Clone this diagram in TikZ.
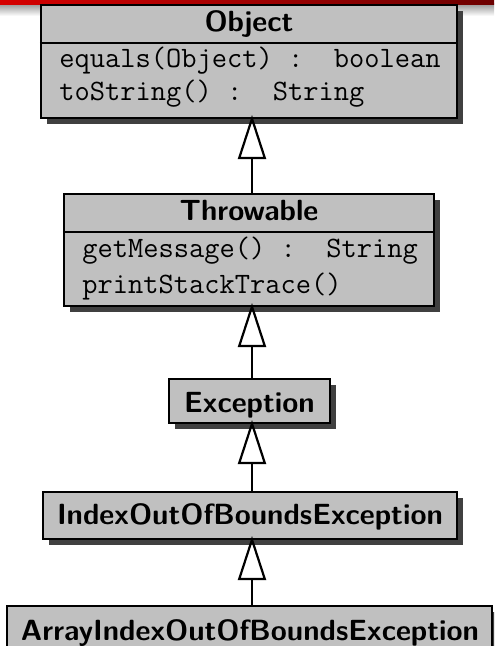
\documentclass[tikz,border=0pt]{standalone}
\usetikzlibrary{arrows.meta,shadows}

\definecolor{boxfill}{RGB}{192,192,192}
\definecolor{shadowgray}{RGB}{64,64,64}
\definecolor{barleft}{RGB}{214,0,0}
\definecolor{barright}{RGB}{108,0,0}

\begin{document}
\begin{tikzpicture}[x=0.5pt,y=-0.5pt,
  classbox/.style={draw=black, line width=1.1pt, fill=boxfill, inner sep=0pt,
    drop shadow={shadow xshift=3pt, shadow yshift=-3pt, fill=shadowgray, opacity=1}},
  titletext/.style={inner sep=0pt, anchor=base,
    font=\fontsize{14.6}{17}\selectfont\sffamily\bfseries},
  methodtext/.style={inner sep=0pt, anchor=base west,
    font=\fontsize{14.8}{17}\selectfont\ttfamily},
  seprule/.style={draw=black, line width=1.1pt},
  inherit/.style={draw=black, line width=1.1pt, shorten >=-2pt,
    -{Triangle[open, length=22pt, width=14pt, line width=1.1pt]}}
]
\useasboundingbox (0,0) rectangle (494,646);
\clip (0,0) rectangle (494,646);

% header bar with its fading shadow
\shade[top color=black!40, bottom color=white] (0,4) rectangle (494,16);
\shade[left color=barleft, right color=barright] (0,0) rectangle (494,4.5);

% vertical axis of the inheritance arrows
\coordinate (axis) at (252,0);

% Object
\node[classbox, minimum width=208pt, minimum height=56.5pt] (object) at (249,61.5) {};
\coordinate (objsep) at (0,43);
\draw[seprule] (object.west |- objsep) -- (object.east |- objsep);
\node[titletext] (objname) at (249,32) {Object};
\node[methodtext] (objeq) at (59,68) {equals(Object) :\ \ boolean};
\node[methodtext] (objts) at (59,101) {toString() :\ \ String};

% Throwable
\node[classbox, minimum width=185pt, minimum height=56pt] (throwable) at (249,250) {};
\coordinate (thrsep) at (0,232);
\draw[seprule] (throwable.west |- thrsep) -- (throwable.east |- thrsep);
\node[titletext] (thrname) at (249,221) {Throwable};
\node[methodtext] (thrmsg) at (82,257) {getMessage() :\ \ String};
\node[methodtext] (thrpst) at (82,293) {printStackTrace()};

% Exception
\node[classbox, minimum width=80.5pt, minimum height=22pt] (exception) at (249.5,401) {};
\node[titletext] (excname) at (249.5,412) {Exception};

% IndexOutOfBoundsException
\node[classbox, minimum width=207pt, minimum height=23.5pt] (ioobe) at (250,515.5) {};
\node[titletext] (ioobename) at (250,524) {IndexOutOfBoundsException};

% ArrayIndexOutOfBoundsException
\node[classbox, minimum width=242.5pt, minimum height=23.5pt] (aioobe) at (249.5,629.5) {};
\node[titletext] (aioobename) at (250,640) {ArrayIndexOutOfBoundsException};

% generalisation arrows
\draw[inherit] (throwable.north -| axis) -- (object.south -| axis);
\draw[inherit] (exception.north -| axis) -- (throwable.south -| axis);
\draw[inherit] (ioobe.north -| axis) -- (exception.south -| axis);
\draw[inherit] (aioobe.north -| axis) -- (ioobe.south -| axis);
\end{tikzpicture}
\end{document}
